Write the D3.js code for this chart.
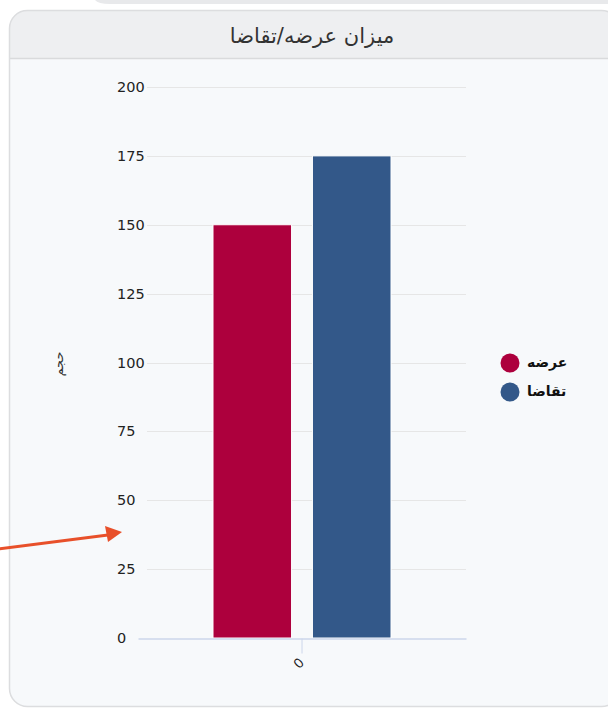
<!DOCTYPE html>
<html>
<head>
<meta charset="utf-8">
<script src="https://cdn.jsdelivr.net/npm/d3@7"></script>
<style>
html,body{margin:0;padding:0;background:#fff;}
svg{display:block;font-family:"DejaVu Sans","Noto Sans",sans-serif;}
</style>
</head>
<body>
<svg id="c" width="608" height="709"></svg>
<script>
const title = "میزان عرضه/تقاضا";
const yAxisTitle = "حجم";
const categories = ["0"];
const seriesNames = ["عرضه", "تقاضا"];
const seriesColors = ["#ad003d", "#335889"];
const supplyValues = [150];
const demandValues = [175];
const yTicks = [0, 25, 50, 75, 100, 125, 150, 175, 200];

const svg = d3.select("#c");

// top strip of previous card
svg.append("path").attr("d","M95,0 L608,0 L608,4 L110,4 Q98,4 95,0 Z").attr("fill","#e8e9eb");

// card
const defs = svg.append("defs");
defs.append("clipPath").attr("id","card").append("rect")
  .attr("x",9.5).attr("y",10.5).attr("width",610).attr("height",696).attr("rx",18);
const card = svg.append("g").attr("clip-path","url(#card)");
card.append("rect").attr("x",9.5).attr("y",10.5).attr("width",610).attr("height",696).attr("fill","#f7f9fb");
card.append("rect").attr("x",9.5).attr("y",10.5).attr("width",610).attr("height",48).attr("fill","#eeeff1");
card.append("line").attr("x1",9).attr("x2",620).attr("y1",58.5).attr("y2",58.5).attr("stroke","#d9dadc").attr("stroke-width",1.5);
svg.append("rect").attr("x",9.5).attr("y",10.5).attr("width",610).attr("height",696).attr("rx",18)
  .attr("fill","none").attr("stroke","#dcdddf").attr("stroke-width",1.5);

svg.append("text").attr("x",312).attr("y",43).attr("text-anchor","middle")
  .attr("font-size",21).attr("fill","#333").attr("direction","rtl").text(title);

// scales
const y = d3.scaleLinear().domain([0,200]).range([638,87]);
const x0 = d3.scaleBand().domain(categories).range([138,466]).paddingInner(0).paddingOuter(0);
const x1 = d3.scaleBand().domain([0,1]).range([75,253]).paddingInner(0.21);

// gridlines
svg.append("g").selectAll("line").data(yTicks.filter(d=>d>0)).join("line")
  .attr("x1",147).attr("x2",466).attr("y1",d=>Math.round(y(d))+0.5).attr("y2",d=>Math.round(y(d))+0.5)
  .attr("stroke","#e6e6e6").attr("stroke-width",1);

// y tick labels
svg.append("g").selectAll("text").data(yTicks).join("text")
  .attr("x",117).attr("y",d=>y(d)+5).attr("font-size",14.5).attr("fill","#222")
  .text(d=>d);

// y axis title
svg.append("text").attr("transform","translate(63,364) rotate(-90)")
  .attr("text-anchor","middle").attr("font-size",13).attr("fill","#333").text(yAxisTitle);

// bars
const data = categories.map((c,i)=>({cat:c, vals:[supplyValues[i], demandValues[i]]}));
const grp = svg.append("g").selectAll("g").data(data).join("g")
  .attr("transform",d=>`translate(${x0(d.cat)},0)`);
grp.selectAll("rect").data(d=>d.vals.map((v,i)=>({v,i}))).join("rect")
  .attr("x",d=>x1(d.i)).attr("width",x1.bandwidth())
  .attr("y",d=>y(d.v)).attr("height",d=>y(0)-y(d.v))
  .attr("fill",d=>seriesColors[d.i]).attr("stroke","#ffffff").attr("stroke-width",1);

// x axis
const xAxis = d3.axisBottom(x0).tickSize(15).tickSizeOuter(0);
const xg = svg.append("g").attr("transform","translate(0,638.5)").call(xAxis);
xg.select(".domain").attr("stroke","#ccd6eb").attr("stroke-width",1.5);
xg.selectAll(".tick line").attr("stroke","#ccd6eb");
xg.selectAll(".tick text").attr("font-size",14).attr("fill","#222")
  .attr("dy",0).attr("y",0)
  .attr("transform","translate(0,28) rotate(-45)").attr("text-anchor","middle");

// legend
const lg = svg.append("g").selectAll("g").data(seriesNames).join("g")
  .attr("transform",(d,i)=>`translate(510,${363+i*29})`);
lg.append("circle").attr("r",9.5).attr("fill",(d,i)=>seriesColors[i]);
lg.append("text").attr("x",17).attr("y",4).attr("font-size",14).attr("font-weight","bold")
  .attr("fill","#111").text(d=>d);

// annotation arrow
svg.append("line").attr("x1",-2).attr("y1",549).attr("x2",108).attr("y2",535)
  .attr("stroke","#e8502a").attr("stroke-width",3);
svg.append("path").attr("d","M122,532 L105,526 L108,542 Z").attr("fill","#e8502a");
</script>
</body>
</html>
